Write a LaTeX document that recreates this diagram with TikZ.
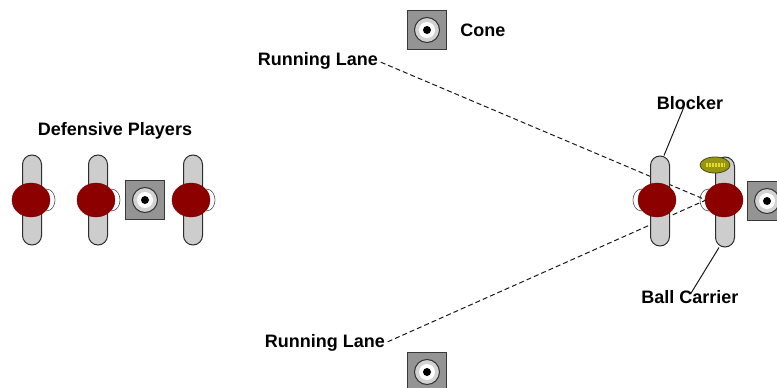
\documentclass[tikz,border=0pt]{standalone}
\usepackage{fontspec}
\setmainfont{Liberation Sans}
\usepackage{tikz}
\usetikzlibrary{shapes.geometric,positioning}
\definecolor{jersey}{RGB}{140,0,0}
\definecolor{polegray}{RGB}{205,205,205}
\definecolor{conegray}{RGB}{148,148,148}
\definecolor{ballolive}{RGB}{150,150,20}

\begin{document}
\begin{tikzpicture}[x=1pt, y=-1pt, every node/.style={font=\fontsize{18}{20}\selectfont\bfseries, inner sep=0pt}, pole/.style={rectangle,rounded corners=9.5pt,draw=gray!35!black,fill=polegray,line width=1pt,minimum width=19pt,minimum height=90pt}, body/.style={ellipse,fill=jersey,draw=jersey!85!black,minimum width=38pt,minimum height=34pt}, hand/.style={gray!60!black,line width=0.6pt}, cone/.style={rectangle,draw=gray!45!black,fill=conegray,line width=1.2pt,minimum size=39pt}, ring/.style={circle,draw=gray!40!black,fill=gray!35,line width=1pt,minimum size=25pt}, hole/.style={circle,fill=white,minimum size=16pt}, dot/.style={circle,fill=black,minimum size=8pt}, lane/.style={dashed,dash pattern=on 5pt off 3pt,line width=1pt,gray!20!black}, pointer/.style={line width=1pt,gray!20!black}]
  \useasboundingbox (0,0) rectangle (777,388);
  % labels
  \node (deflbl) at (115,131) {Defensive Players};
  \node[anchor=east] (toplane) at (378,61) {Running Lane};
  \node[anchor=east] (botlane) at (385,343) {Running Lane};
  \node (blocklbl) at (690,103) {Blocker};
  \node (carrylbl) at (690,297) {Ball Carrier};
  \coordinate (meet) at (706,200);
  % running lanes, drawn under the players
  \draw[lane,shorten <=3pt] (toplane.east) -- (meet);
  \draw[lane,shorten <=3pt] (botlane.east) -- (meet);
  % cones
  \node[cone] (cone1) at (427,30) {}; \node[ring] at (cone1) {}; \node[hole] at (cone1) {}; \node[dot] at (cone1) {};
  \node[right=13pt of cone1] (conelbl) {Cone};
  \node[cone] (cone2) at (427,372) {}; \node[ring] at (cone2) {}; \node[hole] at (cone2) {}; \node[dot] at (cone2) {};
  \node[cone] (cone3) at (145,200) {}; \node[ring] at (cone3) {}; \node[hole] at (cone3) {}; \node[dot] at (cone3) {};
  \node[cone] (cone4) at (767,201) {}; \node[ring] at (cone4) {}; \node[hole] at (cone4) {}; \node[dot] at (cone4) {};
  % defensive players
  \node[pole] (d1pole) at (32,200) {};
  \node[body] (d1) at (31,200) {};
  \draw[hand] (46,189) .. controls (58,189) and (58,211) .. (46,211);
  \node[pole] (d2pole) at (98,200) {};
  \node[body] (d2) at (96,200) {};
  \draw[hand] (111,189) .. controls (123,189) and (123,211) .. (111,211);
  \node[pole] (d3pole) at (193,200) {};
  \node[body] (d3) at (191,200) {};
  \draw[hand] (206,189) .. controls (218,189) and (218,211) .. (206,211);
  % blocker
  \node[pole] (bpole) at (660,201) {};
  \node[body] (blocker) at (657,200) {};
  \draw[hand] (642,189) .. controls (630,189) and (630,211) .. (642,211);
  % ball carrier
  \node[pole] (cpole) at (725,202) {};
  \node[body] (carrier) at (724,200) {};
  \draw[hand] (709,189) .. controls (697,189) and (697,211) .. (709,211);
  \node[ellipse,fill=ballolive,draw=ballolive!50!black,line width=0.8pt,minimum width=30pt,minimum height=16pt] (ball) at (715,165) {};
  \draw[yellow!75!ballolive,line width=4pt,dash pattern=on 2pt off 1pt] ([xshift=6pt]ball.west) -- ([xshift=-6pt]ball.east);
  % pointers
  \draw[pointer] ([xshift=-6pt,yshift=3pt]blocklbl.south) -- ([xshift=4pt]bpole.north);
  \draw[pointer] ([xshift=-6pt]cpole.south) -- ([xshift=1pt,yshift=-3pt]carrylbl.north);
\end{tikzpicture}
\end{document}
